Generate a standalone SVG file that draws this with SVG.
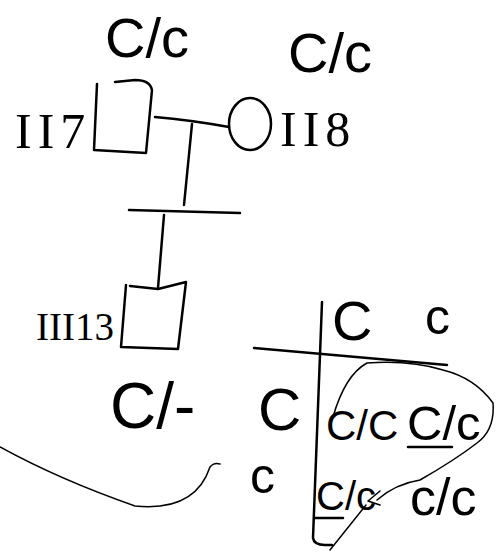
<svg xmlns="http://www.w3.org/2000/svg" width="500" height="554" viewBox="0 0 500 554">
<style>
.ink{fill:none;stroke:#000;stroke-width:2.5;stroke-linecap:round;stroke-linejoin:round}
.thin{fill:none;stroke:#000;stroke-width:1.5;stroke-linecap:round;stroke-linejoin:round}
.hw{font-family:"Liberation Sans","DejaVu Sans",sans-serif;fill:#000}
.rn{font-family:"Liberation Serif","DejaVu Serif",serif;fill:#000}
</style>
<rect width="500" height="554" fill="#fff"/>
<g id="II7">
<path class="ink" d="M97 84 L94 150 L146 153 L152 90 Q150 80 135 80 L115 82"/>
<text class="rn" x="15" y="148" font-size="50" letter-spacing="6">II7</text>
<text class="hw" x="105" y="57" font-size="56">C/c</text>
</g>
<g id="II8">
<ellipse class="ink" cx="250" cy="124" rx="21" ry="26"/>
<text class="rn" x="280" y="146" font-size="50" letter-spacing="6">II8</text>
<text class="hw" x="288" y="72" font-size="56">C/c</text>
</g>
<g id="III13">
<path class="ink" d="M126 285 L121 347 L178 349 L186 282 L158 289 L130 286"/>
<text class="rn" x="36" y="340" font-size="40" textLength="78" lengthAdjust="spacingAndGlyphs">III13</text>
<text class="hw" x="110" y="428" font-size="64">C/-</text>
</g>
<g id="connectors">
<path class="ink" d="M155 117 Q190 120 229 127"/>
<path class="ink" d="M192 124 L184 205"/>
<path class="ink" d="M129 210 L240 213"/>
<path class="ink" d="M164 215 L158 288"/>
<path class="thin" d="M0 447 Q60 480 135 506 Q195 512 210 467 Q214 462 220 464"/>
</g>
<g id="punnett">
<path class="ink" d="M322 302 L313 538 Q314 545 325 545 L332 545"/>
<path class="ink" d="M254 348 L447 365"/>
<text class="hw" x="332" y="340" font-size="56">C</text>
<text class="hw" x="425" y="334" font-size="50">c</text>
<text class="hw" x="258" y="430" font-size="60">C</text>
<text class="hw" x="250" y="493" font-size="50">c</text>
<text class="hw" x="326" y="440" font-size="42">C/C</text>
<text class="hw" x="407" y="440" font-size="49">C/c</text>
<path class="ink" d="M408 447 L452 447" stroke-width="3.5"/>
<text class="hw" x="316" y="510" font-size="40">C/c</text>
<path class="ink" d="M314 518 L343 518" stroke-width="3.5"/>
<text class="hw" x="410" y="515" font-size="52">c/c</text>
<path class="thin" d="M333 417 Q345 375 367 363 Q410 360 443 370 Q475 378 493 403 Q495 430 477 443 Q455 460 420 480 Q395 484 377 500 M368 501 L380 491 M368 501 L380 505 M366 505 L330 550"/>
</g>
</svg>
